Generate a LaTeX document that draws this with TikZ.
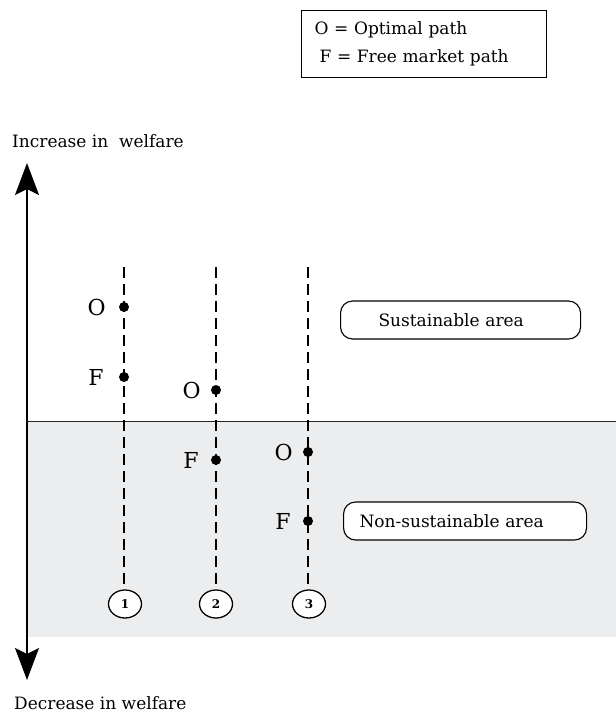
\documentclass[tikz,border=0pt]{standalone}
\usepackage{fontspec}
\setmainfont{DejaVu Serif}
\usetikzlibrary{shapes,arrows.meta,positioning}
\definecolor{areagray}{RGB}{236,237,239}
\tikzstyle{axis} = [draw, line width=1.2pt, -{Stealth[length=32pt, width=24pt, inset=6pt]}]
\tikzstyle{route} = [draw, line width=1.3pt, dash pattern=on 11pt off 6pt]
\tikzstyle{area} = [rectangle, draw, line width=1.1pt, rounded corners=12pt, fill=white, minimum height=38pt, align=left, font=\fontsize{17}{20}\selectfont]
\tikzstyle{dot} = [circle, fill=black, inner sep=0pt, minimum size=10pt]
\tikzstyle{pathlabel} = [inner sep=0pt, font=\fontsize{22}{24}\selectfont]
\tikzstyle{scenario} = [ellipse, draw, line width=1.3pt, fill=white, minimum width=33pt, minimum height=28pt, inner sep=0pt, font=\bfseries\fontsize{12}{13}\selectfont]
\tikzstyle{caption} = [inner sep=0pt, anchor=west, font=\fontsize{17}{20}\selectfont]

\begin{document}
\begin{tikzpicture}[x=1pt, y=-1pt]
  \useasboundingbox (0,0) rectangle (616,713);
  % Shaded area
  \fill [areagray] (27,421) rectangle (616,637);
  % Place nodes
  \node [rectangle, draw, line width=1.1pt, anchor=north west, minimum width=245pt, minimum height=67pt, inner xsep=13pt, text width=219pt, align=left, font=\fontsize{17}{28}\selectfont] (legend) at (301,10) {O = Optimal path\\\hspace*{5pt}F = Free market path};
  \node [caption] (inc) at (12,141) {Increase in\ \ welfare};
  \node [caption] (dec) at (14,703) {Decrease in welfare};
  \node [area, anchor=west, inner xsep=38pt, text width=164pt] (sust) at (340,320) {Sustainable area};
  \node [area, anchor=west, inner xsep=16pt, text width=211pt] (nonsust) at (343,521) {Non-sustainable area};
  \node [scenario] (c1) at (125,604) {1};
  \node [scenario] (c2) at (216,604) {2};
  \node [scenario] (c3) at (309,604) {3};
  \coordinate (origin) at (27,421);
  \coordinate (up) at (27,163);
  \coordinate (down) at (27,680);
  \coordinate (east) at (616,421);
  \coordinate (top1) at (124,267);
  \coordinate (top2) at (216,267);
  \coordinate (top3) at (308,267);
  % Draw edges
  \path [axis] (origin) -- (up);
  \path [axis] (origin) -- (down);
  \draw [line width=0.9pt, black!85] (origin) -- (east);
  \path [route] (top1) -- (top1 |- c1.north);
  \path [route] (top2) -- (top2 |- c2.north);
  \path [route] (top3) -- (top3 |- c3.north);
  % Paths
  \node [dot] (o1) at (124,307) {};
  \node [dot] (f1) at (124,377) {};
  \node [dot] (o2) at (216,390) {};
  \node [dot] (f2) at (216,460) {};
  \node [dot] (o3) at (308,452) {};
  \node [dot] (f3) at (308,521) {};
  \node [pathlabel, left=13pt of o1] (o1lab) {O};
  \node [pathlabel, left=15pt of f1] (f1lab) {F};
  \node [pathlabel, left=10pt of o2] (o2lab) {O};
  \node [pathlabel, left=12pt of f2] (f2lab) {F};
  \node [pathlabel, left=10pt of o3] (o3lab) {O};
  \node [pathlabel, left=12pt of f3] (f3lab) {F};
\end{tikzpicture}
\end{document}
